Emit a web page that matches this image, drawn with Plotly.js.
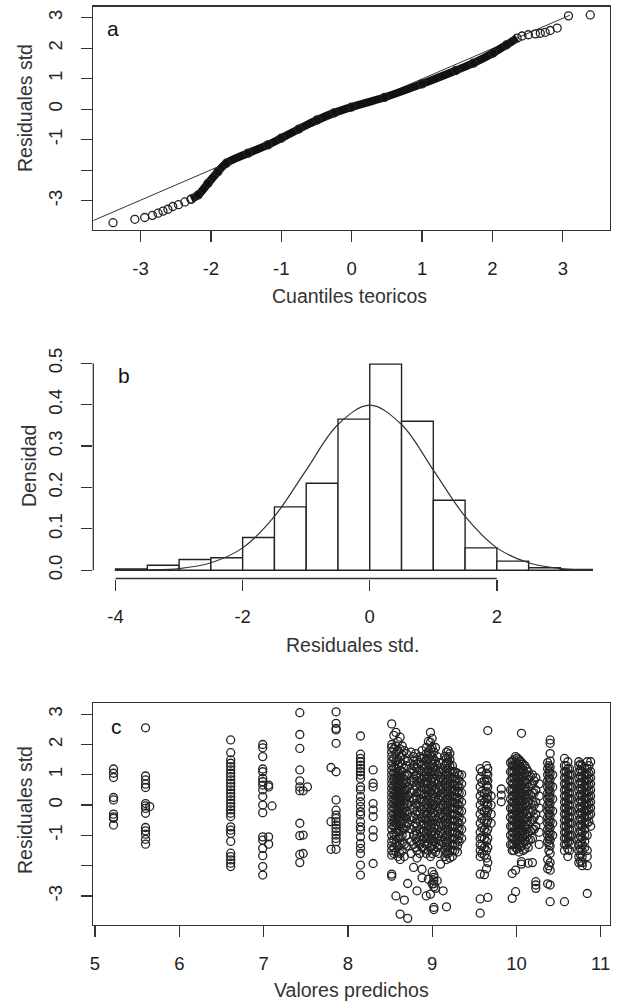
<!DOCTYPE html>
<html>
<head>
<meta charset="utf-8">
<script src="https://cdn.plot.ly/plotly-3.0.1.min.js"></script>
<style>html,body{margin:0;padding:0;background:#fff;}#chart{width:621px;height:1005px;}</style>
</head>
<body>
<div id="chart"></div>
<script>
// ---------- Panel a: QQ plot ----------
const qqTailLowX = [-3.39, -3.08, -2.94, -2.83, -2.75, -2.68, -2.61, -2.54, -2.46, -2.37, -2.28];
const qqTailLowY = [-3.72, -3.61, -3.55, -3.48, -3.41, -3.34, -3.28, -3.19, -3.13, -3.04, -2.95];
const qqBandX = [-2.28, -2.18, -2.04, -1.90, -1.78, -1.47, -1.19, -1.00, -0.75, -0.49, -0.25, 0.00, 0.47, 1.00, 1.48, 1.73, 2.01, 2.20, 2.35];
const qqBandY = [-2.95, -2.81, -2.43, -2.05, -1.77, -1.44, -1.17, -0.95, -0.65, -0.35, -0.12, 0.07, 0.39, 0.83, 1.27, 1.51, 1.84, 2.11, 2.33];
const qqTailHighX = [2.42, 2.51, 2.61, 2.68, 2.75, 2.82, 2.92, 3.08, 3.39];
const qqTailHighY = [2.40, 2.44, 2.47, 2.49, 2.52, 2.58, 2.66, 3.06, 3.09];
const qqLineX = [-3.67, 3.10];
const qqLineY = [-3.65, 3.08];

// ---------- Panel b: histogram ----------
const binLeft = [-4.0, -3.5, -3.0, -2.5, -2.0, -1.5, -1.0, -0.5, 0.0, 0.5, 1.0, 1.5, 2.0, 2.5, 3.0];
const binDensity = [0.003, 0.012, 0.026, 0.030, 0.079, 0.153, 0.210, 0.365, 0.498, 0.360, 0.169, 0.054, 0.022, 0.006, 0.002];
const binWidth = 0.5;
const curveX = [-4.0, -3.5, -3.0, -2.5, -2.0, -1.5, -1.0, -0.5, 0.0, 0.5, 1.0, 1.5, 2.0, 2.5, 3.0, 3.5];
const curveY = [0.000, 0.001, 0.004, 0.018, 0.054, 0.130, 0.242, 0.352, 0.399, 0.352, 0.242, 0.130, 0.054, 0.018, 0.004, 0.001];

// ---------- Panel c: residuals vs predicted ----------
const predCols = [5.22, 5.60, 5.65, 6.61, 6.99, 7.06, 7.10, 7.43, 7.47, 7.52, 7.86, 7.80, 8.15, 8.30,
  8.52, 8.57, 8.62, 8.67, 8.71, 8.78, 8.82, 8.88, 8.93, 8.98, 9.02, 9.06, 9.10, 9.13, 9.17, 9.21, 9.27, 9.32,
  9.57, 9.62, 9.66, 9.70, 9.82, 9.95, 9.99, 10.03, 10.06, 10.10, 10.14, 10.19, 10.23, 10.27,
  10.37, 10.40, 10.43, 10.57, 10.61, 10.65, 10.74, 10.78, 10.84, 10.88,
  8.545, 8.595, 8.645, 8.695, 8.75, 8.805, 8.855, 8.905, 8.955, 9.00, 9.04, 9.08, 9.15, 9.19, 9.24, 9.30, 9.35,
  9.59, 9.645, 9.93, 9.97, 10.01, 10.045, 10.08, 10.12, 10.165, 10.21, 10.385, 10.59, 10.63, 10.76, 10.81, 10.86];
const residCols = [
  [1.19, 1.05, 0.91, 0.25, 0.17, -0.30, -0.39, -0.44, -0.66],
  [2.55, 0.96, 0.83, 0.69, 0.58, 0.05, -0.03, -0.11, -0.27, -0.74, -0.85, -0.96, -1.13, -1.29],
  [-0.05],
  [2.15, 1.73, 1.49, 1.38, 1.27, 1.16, 1.05, 0.94, 0.83, 0.72, 0.61, 0.50, 0.39, 0.28, 0.17, 0.06, -0.05, -0.16, -0.27, -0.38, -0.72, -0.83, -0.94, -1.20, -1.59, -1.70, -1.81, -1.92, -2.03],
  [2.00, 1.89, 1.60, 1.19, 1.10, 0.88, 0.77, 0.66, 0.50, 0.28, 0.00, -0.25, -1.05, -1.16, -1.43, -1.67, -2.03, -2.31],
  [0.66, 0.60, -1.05, -1.29],
  [-0.03],
  [3.05, 2.33, 1.87, 1.16, 0.80, 0.60, 0.47, -0.60, -1.01, -1.63, -1.90],
  [0.47, -0.99, -1.60],
  [0.60],
  [3.08, 2.70, 2.53, 2.48, 2.04, 1.10, 0.17, -0.17, -0.33, -0.44, -0.55, -0.66, -0.77, -0.88, -0.99, -1.10, -1.21, -1.46],
  [1.24, -0.55, -1.46],
  [2.28, 1.68, 1.54, 1.43, 1.32, 1.21, 1.10, 0.99, 0.88, 0.60, 0.50, 0.28, 0.11, -0.05, -0.22, -0.33, -0.55, -0.72, -0.83, -1.05, -1.27, -1.43, -1.60, -1.98, -2.31],
  [1.16, 0.72, 0.60, 0.05, -0.16, -0.38, -0.83, -1.05, -1.93],
  [2.68, 2.00, 1.90, 1.75, 1.60, 1.45, 1.30, 1.15, 1.00, 0.85, 0.70, 0.55, 0.40, 0.25, 0.10, -0.05, -0.20, -0.35, -0.50, -0.65, -0.80, -1.00, -1.20, -1.35, -1.50, -1.65, -2.28, -2.35],
  [2.40, 1.95, 1.70, 1.45, 1.20, 1.05, 0.90, 0.75, 0.60, 0.45, 0.30, 0.15, 0.00, -0.15, -0.30, -0.45, -0.60, -0.75, -0.90, -1.05, -1.25, -1.55, -3.00],
  [2.24, 1.85, 1.60, 1.40, 1.15, 0.95, 0.80, 0.65, 0.50, 0.40, 0.30, 0.20, 0.10, 0.00, -0.10, -0.25, -0.40, -0.55, -0.70, -0.85, -1.05, -1.30, -1.60, -1.80, -3.60],
  [1.80, 1.50, 1.20, 1.00, 0.85, 0.70, 0.55, 0.45, 0.35, 0.25, 0.15, 0.05, -0.10, -0.25, -0.40, -0.60, -0.80, -1.30, -1.70, -3.14],
  [1.45, 1.00, 0.60, 0.30, 0.00, -0.30, -0.60, -2.59, -3.74],
  [1.60, 1.45, 1.30, 1.10, 0.90, 0.75, 0.50, 0.20, -0.10, -0.40, -0.70, -1.00, -1.30, -2.06],
  [1.50, 1.35, 1.20, 1.00, 0.80, 0.60, 0.40, 0.20, 0.00, -0.20, -0.45, -0.70, -0.95, -1.20, -1.50, -1.75, -2.83],
  [1.80, 1.55, 1.30, 1.10, 0.85, 0.60, 0.35, 0.10, -0.15, -0.40, -0.65, -0.90, -1.15, -1.40, -2.12, -2.40],
  [1.90, 1.70, 1.50, 1.30, 1.10, 0.90, 0.70, 0.50, 0.30, 0.10, -0.10, -0.30, -0.50, -0.70, -0.90, -1.10, -1.30, -1.60, -3.00],
  [2.40, 2.07, 1.85, 1.65, 1.45, 1.25, 1.05, 0.85, 0.65, 0.45, 0.25, 0.05, -0.15, -0.35, -0.55, -0.75, -0.95, -1.15, -1.40, -1.70, -2.94],
  [1.75, 1.50, 1.25, 1.00, 0.75, 0.50, 0.25, 0.00, -0.25, -0.50, -0.75, -1.00, -1.20, -1.45, -2.30, -2.39, -2.50, -2.60, -2.70, -3.38, -3.45],
  [1.60, 1.30, 1.00, 0.70, 0.40, 0.10, -0.20, -0.50, -0.80, -1.10, -1.40, -2.50],
  [1.20, 0.90, 0.60, 0.30, 0.00, -0.30, -0.60, -0.90, -1.20, -1.95],
  [0.80, 0.40, 0.00, -0.40, -2.83],
  [1.74, 1.55, 1.40, 1.20, 1.00, 0.80, 0.60, 0.40, 0.20, 0.00, -0.20, -0.40, -0.60, -0.80, -1.00, -1.20, -1.40, -1.60, -1.80, -3.36],
  [1.70, 1.50, 1.30, 1.10, 0.90, 0.70, 0.50, 0.30, 0.10, -0.10, -0.30, -0.50, -0.70, -0.90, -1.10, -1.30, -1.50, -1.75],
  [1.10, 0.95, 0.80, 0.65, 0.50, 0.35, 0.20, 0.05, -0.10, -0.30, -0.50, -0.70, -0.90, -1.10, -1.30, -1.50],
  [1.00, 0.80, 0.60, 0.40, 0.20, 0.00, -0.20, -0.40, -0.60, -0.80, -1.00, -1.20],
  [1.20, 0.90, 0.60, 0.30, 0.00, -0.30, -0.60, -0.90, -1.10, -1.30, -1.50, -1.70, -2.28, -3.10, -3.57],
  [0.80, 0.40, 0.10, -0.20, -0.50, -0.80, -1.10, -1.40, -1.65, -2.30],
  [2.46, 1.20, 1.00, 0.80, 0.60, 0.40, 0.20, 0.00, -0.20, -0.50, -0.80, -1.10, -1.40, -1.90, -3.05],
  [0.30, 0.00, -0.30, -0.60],
  [0.53, 0.33, 0.11],
  [1.45, 1.30, 1.10, 0.90, 0.70, 0.50, 0.30, 0.10, -0.10, -0.30, -0.50, -0.70, -0.90, -1.10, -1.30, -1.50, -2.26, -3.08],
  [1.60, 1.40, 1.20, 1.00, 0.80, 0.60, 0.40, 0.20, 0.00, -0.20, -0.40, -0.60, -0.80, -1.00, -1.20, -1.40, -2.15, -2.86],
  [1.50, 1.30, 1.10, 0.90, 0.70, 0.50, 0.30, 0.10, -0.10, -0.30, -0.50, -0.70, -0.90, -1.10, -1.30, -1.55],
  [2.37, 1.40, 1.15, 0.90, 0.65, 0.40, 0.15, -0.10, -0.35, -0.60, -0.85, -1.10, -1.35, -1.87, -1.95],
  [1.30, 1.05, 0.80, 0.55, 0.30, 0.05, -0.20, -0.45, -0.70, -0.95, -1.20, -1.45],
  [1.10, 0.85, 0.60, 0.35, 0.10, -0.15, -0.40, -0.65, -0.90, -1.15, -1.40, -1.92],
  [1.00, 0.70, 0.40, 0.10, -0.20, -0.50, -0.80, -1.10, -1.90],
  [0.90, 0.50, 0.10, -0.30, -0.70, -2.53, -2.64, -2.75],
  [0.70, 0.30, -0.10, -0.50, -0.90, -1.30],
  [1.40, 1.20, 1.00, 0.80, 0.60, 0.40, 0.20, 0.00, -0.20, -0.40, -0.60, -0.80, -1.00, -1.20, -1.80, -2.10, -2.60],
  [2.15, 2.04, 1.70, 1.45, 1.25, 1.05, 0.85, 0.65, 0.45, 0.25, 0.05, -0.15, -0.35, -0.55, -0.75, -0.95, -1.15, -1.35, -1.60, -1.90, -2.15, -2.64, -3.19],
  [1.00, 0.60, 0.20, -0.20, -0.60, -1.00],
  [1.54, 1.30, 1.10, 0.90, 0.70, 0.50, 0.30, 0.10, -0.10, -0.30, -0.50, -0.70, -0.90, -1.10, -1.30, -1.50, -3.19],
  [1.43, 1.20, 1.00, 0.80, 0.60, 0.40, 0.20, 0.00, -0.20, -0.40, -0.60, -0.80, -1.00, -1.20, -1.45, -1.70],
  [1.00, 0.60, 0.20, -0.20, -0.60, -1.00, -1.30],
  [1.43, 1.30, 1.10, 0.90, 0.70, 0.50, 0.30, 0.10, -0.10, -0.30, -0.50, -0.70, -0.90, -1.10, -1.30, -1.50, -1.70, -1.90],
  [1.30, 1.10, 0.90, 0.70, 0.50, 0.30, 0.10, -0.10, -0.30, -0.50, -0.70, -0.90, -1.10, -1.30, -1.50, -1.70, -1.90, -2.00],
  [1.43, 1.20, 1.00, 0.80, 0.60, 0.40, 0.20, 0.00, -0.20, -0.40, -0.60, -1.00, -1.50, -1.70, -2.00, -2.92],
  [1.43, 1.10, 0.90, 0.70, 0.50, 0.30, 0.10, -0.10, -0.30, -0.70],
  // denser fill of the packed columns
  [2.30, 1.85, 1.55, 1.25, 1.05, 0.85, 0.65, 0.50, 0.35, 0.20, 0.05, -0.10, -0.30, -0.50, -0.70, -0.95, -1.15, -1.40, -1.60],
  [2.10, 1.80, 1.50, 1.30, 1.10, 0.95, 0.80, 0.62, 0.48, 0.33, 0.18, 0.03, -0.12, -0.28, -0.45, -0.65, -0.85, -1.10, -1.35, -1.70],
  [1.95, 1.65, 1.35, 1.10, 0.90, 0.75, 0.60, 0.45, 0.30, 0.15, -0.05, -0.20, -0.35, -0.55, -0.75, -1.00, -1.25, -1.50],
  [1.70, 1.30, 1.00, 0.75, 0.50, 0.25, 0.05, -0.20, -0.45, -0.70, -1.00, -1.35],
  [1.75, 1.20, 0.80, 0.40, 0.00, -0.40, -0.80, -1.20, -1.60],
  [1.70, 1.25, 0.95, 0.65, 0.30, 0.05, -0.30, -0.60, -0.85, -1.10, -1.40],
  [1.60, 1.40, 1.15, 0.90, 0.70, 0.45, 0.20, -0.05, -0.30, -0.55, -0.80, -1.05, -1.30, -1.60],
  [1.55, 1.20, 0.95, 0.75, 0.55, 0.35, 0.15, -0.05, -0.25, -0.45, -0.65, -0.85, -1.05, -1.25, -1.45],
  [2.10, 1.75, 1.55, 1.35, 1.15, 0.95, 0.75, 0.55, 0.35, 0.15, -0.05, -0.25, -0.45, -0.65, -0.85, -1.05, -1.25, -1.50, -2.45],
  [2.20, 1.90, 1.60, 1.35, 1.10, 0.88, 0.62, 0.38, 0.12, -0.12, -0.38, -0.62, -0.88, -1.10, -1.35, -1.60, -2.20, -2.60],
  [1.90, 1.45, 1.15, 0.85, 0.55, 0.25, -0.05, -0.35, -0.65, -0.95, -1.25, -1.55, -2.75],
  [1.40, 1.10, 0.80, 0.50, 0.20, -0.10, -0.40, -0.70, -1.00, -1.30, -1.60],
  [1.60, 1.30, 1.10, 0.90, 0.70, 0.50, 0.30, 0.10, -0.10, -0.30, -0.50, -0.70, -0.90, -1.10, -1.30, -1.50, -1.70],
  [1.80, 1.60, 1.40, 1.20, 1.00, 0.80, 0.60, 0.40, 0.20, 0.00, -0.20, -0.40, -0.60, -0.80, -1.00, -1.20, -1.40, -1.60],
  [1.30, 1.10, 0.90, 0.70, 0.50, 0.30, 0.10, -0.10, -0.30, -0.50, -0.70, -0.90, -1.10, -1.30, -1.50, -1.70],
  [1.05, 0.85, 0.65, 0.45, 0.25, 0.05, -0.15, -0.35, -0.55, -0.75, -0.95, -1.15, -1.35, -1.55],
  [1.00, 0.70, 0.40, 0.10, -0.20, -0.50, -0.80, -1.10],
  [1.10, 0.75, 0.45, 0.15, -0.15, -0.45, -0.75, -1.05, -1.35, -1.60],
  [1.30, 1.05, 0.85, 0.65, 0.45, 0.25, 0.05, -0.15, -0.35, -0.60, -0.90, -1.20, -1.50, -1.75, -2.10],
  [1.40, 1.10, 0.80, 0.50, 0.20, -0.10, -0.40, -0.70, -1.00, -1.30],
  [1.50, 1.30, 1.10, 0.90, 0.70, 0.50, 0.30, 0.10, -0.10, -0.30, -0.50, -0.70, -0.90, -1.10, -1.30, -1.50],
  [1.55, 1.35, 1.15, 0.95, 0.75, 0.55, 0.35, 0.15, -0.05, -0.25, -0.45, -0.65, -0.85, -1.05, -1.25, -1.45],
  [1.45, 1.25, 1.05, 0.85, 0.65, 0.45, 0.25, 0.05, -0.15, -0.35, -0.55, -0.75, -0.95, -1.15, -1.35],
  [1.35, 1.15, 0.95, 0.75, 0.55, 0.35, 0.15, -0.05, -0.25, -0.45, -0.65, -0.85, -1.05, -1.25, -1.50],
  [1.20, 1.00, 0.70, 0.45, 0.20, -0.05, -0.30, -0.55, -0.80, -1.05, -1.30],
  [0.95, 0.65, 0.35, 0.05, -0.25, -0.55, -0.85, -1.15],
  [0.80, 0.40, 0.00, -0.40, -0.80],
  [1.30, 1.10, 0.90, 0.70, 0.50, 0.30, 0.10, -0.10, -0.30, -0.50, -0.70, -0.90, -1.10, -1.30, -1.50, -2.00],
  [1.30, 1.10, 0.90, 0.70, 0.50, 0.30, 0.10, -0.10, -0.30, -0.50, -0.70, -0.90, -1.10, -1.30],
  [1.20, 1.00, 0.80, 0.60, 0.40, 0.20, 0.00, -0.20, -0.40, -0.60, -0.80, -1.00, -1.20, -1.50],
  [1.35, 1.15, 0.95, 0.75, 0.55, 0.35, 0.15, -0.05, -0.25, -0.45, -0.65, -0.85, -1.05, -1.25, -1.45, -1.65, -1.85],
  [1.20, 1.00, 0.80, 0.60, 0.40, 0.20, 0.00, -0.20, -0.40, -0.60, -0.80, -1.00, -1.20, -1.40],
  [1.30, 1.05, 0.85, 0.65, 0.45, 0.25, 0.05, -0.15, -0.35, -0.55]
];

// ---------- Tick labels ----------
const qqTicks = [-3, -2, -1, 0, 1, 2, 3];
const qqTickText = ['-3', '-2', '-1', '0', '1', '2', '3'];
const residTickText = ['-3', '', '-1', '0', '1', '2', '3'];
const histXTicks = [-4, -2, 0, 2];
const histXText = ['-4', '-2', '0', '2'];
const histYTicks = [0, 0.1, 0.2, 0.3, 0.4, 0.5];
const histYText = ['0.0', '0.1', '0.2', '0.3', '0.4', '0.5'];
const predTicks = [5, 6, 7, 8, 9, 10, 11];

// ---------- Build ----------
const W = 621, H = 1005;
const px = v => v / W;
const py = v => 1 - v / H;
const INK = '#222';
const FONT = '"Liberation Sans", Arial, sans-serif';
const openMarker = {symbol: 'circle-open', size: 8, color: INK, line: {width: 1.3, color: INK}};

const cX = [], cY = [];
predCols.forEach((x, i) => residCols[i].forEach(y => { cX.push(x); cY.push(y); }));

const traces = [
  {x: qqLineX, y: qqLineY, xaxis: 'x', yaxis: 'y', mode: 'lines', line: {color: '#333', width: 1}},
  {x: qqBandX, y: qqBandY, xaxis: 'x', yaxis: 'y', mode: 'lines', line: {color: '#111', width: 8, shape: 'spline'}},
  {x: qqBandX, y: qqBandY, xaxis: 'x', yaxis: 'y', mode: 'markers', marker: openMarker},
  {x: qqTailLowX, y: qqTailLowY, xaxis: 'x', yaxis: 'y', mode: 'markers', marker: openMarker},
  {x: qqTailHighX, y: qqTailHighY, xaxis: 'x', yaxis: 'y', mode: 'markers', marker: openMarker},
  {x: binLeft.map(b => b + binWidth / 2), y: binDensity, width: binWidth, type: 'bar', xaxis: 'x2', yaxis: 'y2',
   marker: {color: '#fff', line: {color: INK, width: 1.4}}},
  {x: curveX, y: curveY, xaxis: 'x2', yaxis: 'y2', mode: 'lines', line: {color: '#333', width: 1.2, shape: 'spline'}},
  {x: cX, y: cY, xaxis: 'x3', yaxis: 'y3', mode: 'markers', marker: openMarker}
];

const xDom = [px(93.3), px(610)];
const baseAxis = {
  showgrid: false, zeroline: false, ticks: 'outside', ticklen: 11, tickwidth: 1.3, tickcolor: '#333',
  tickfont: {family: FONT, size: 18.5, color: INK}, fixedrange: true
};
const boxed = {showline: true, mirror: true, linecolor: '#333', linewidth: 1.3};

const layout = {
  width: W, height: H, margin: {l: 0, r: 0, t: 0, b: 0},
  paper_bgcolor: '#fff', plot_bgcolor: '#fff', showlegend: false, bargap: 0,
  font: {family: FONT, color: INK},
  xaxis: Object.assign({}, baseAxis, boxed, {domain: xDom, anchor: 'y', range: [-3.67, 3.67], tickvals: qqTicks, ticktext: qqTickText, ticklabelstandoff: 10}),
  yaxis: Object.assign({}, baseAxis, boxed, {domain: [py(230), py(6.7)], anchor: 'x', range: [-3.96, 3.36], tickvals: qqTicks, ticktext: residTickText, tickangle: -90, ticklabelstandoff: 12}),
  xaxis2: Object.assign({}, baseAxis, {domain: xDom, anchor: 'y2', range: [-4.35, 3.78], tickvals: histXTicks, ticktext: histXText, ticklabelstandoff: 10}),
  yaxis2: Object.assign({}, baseAxis, {domain: [py(578.5), py(355)], anchor: 'x2', range: [-0.02, 0.52], tickvals: histYTicks, ticktext: histYText, tickangle: -90, ticklabelstandoff: 12}),
  xaxis3: Object.assign({}, baseAxis, boxed, {domain: xDom, anchor: 'y3', range: [4.98, 11.11], tickvals: predTicks, ticklabelstandoff: 10}),
  yaxis3: Object.assign({}, baseAxis, boxed, {domain: [py(925), py(703.3)], anchor: 'x3', range: [-3.96, 3.36], tickvals: qqTicks, ticktext: residTickText, tickangle: -90, ticklabelstandoff: 12}),
  shapes: [
    {type: 'line', xref: 'x2', yref: 'y2 domain', x0: histXTicks[0], x1: histXTicks[histXTicks.length - 1], y0: 0, y1: 0, line: {color: '#333', width: 1.3}},
    {type: 'line', xref: 'x2 domain', yref: 'y2', x0: 0, x1: 0, y0: histYTicks[0], y1: histYTicks[histYTicks.length - 1], line: {color: '#333', width: 1.3}}
  ],
  annotations: [
    {text: 'a', x: px(113), y: py(28)},
    {text: 'b', x: px(124), y: py(376)},
    {text: 'c', x: px(116), y: py(726)}
  ].map(a => Object.assign(a, {xref: 'paper', yref: 'paper', showarrow: false, xanchor: 'center', yanchor: 'middle',
    font: {family: '"Liberation Sans Narrow", "Liberation Sans", Arial, sans-serif', size: 21, color: '#111'}}))
  .concat([
    {text: 'Residuales std', x: px(25), y: py(108), textangle: -90},
    {text: 'Cuantiles teoricos', x: px(349), y: py(296)},
    {text: 'Densidad', x: px(29), y: py(466), textangle: -90},
    {text: 'Residuales std.', x: px(352), y: py(645)},
    {text: 'Residuales std', x: px(25), y: py(810), textangle: -90},
    {text: 'Valores predichos', x: px(351), y: py(990)}
  ].map(a => Object.assign(a, {xref: 'paper', yref: 'paper', showarrow: false, xanchor: 'center', yanchor: 'middle',
    font: {family: FONT, size: 19.5, color: '#333'}})))
};

Plotly.newPlot('chart', traces, layout, {staticPlot: true, displayModeBar: false});
</script>
</body>
</html>
